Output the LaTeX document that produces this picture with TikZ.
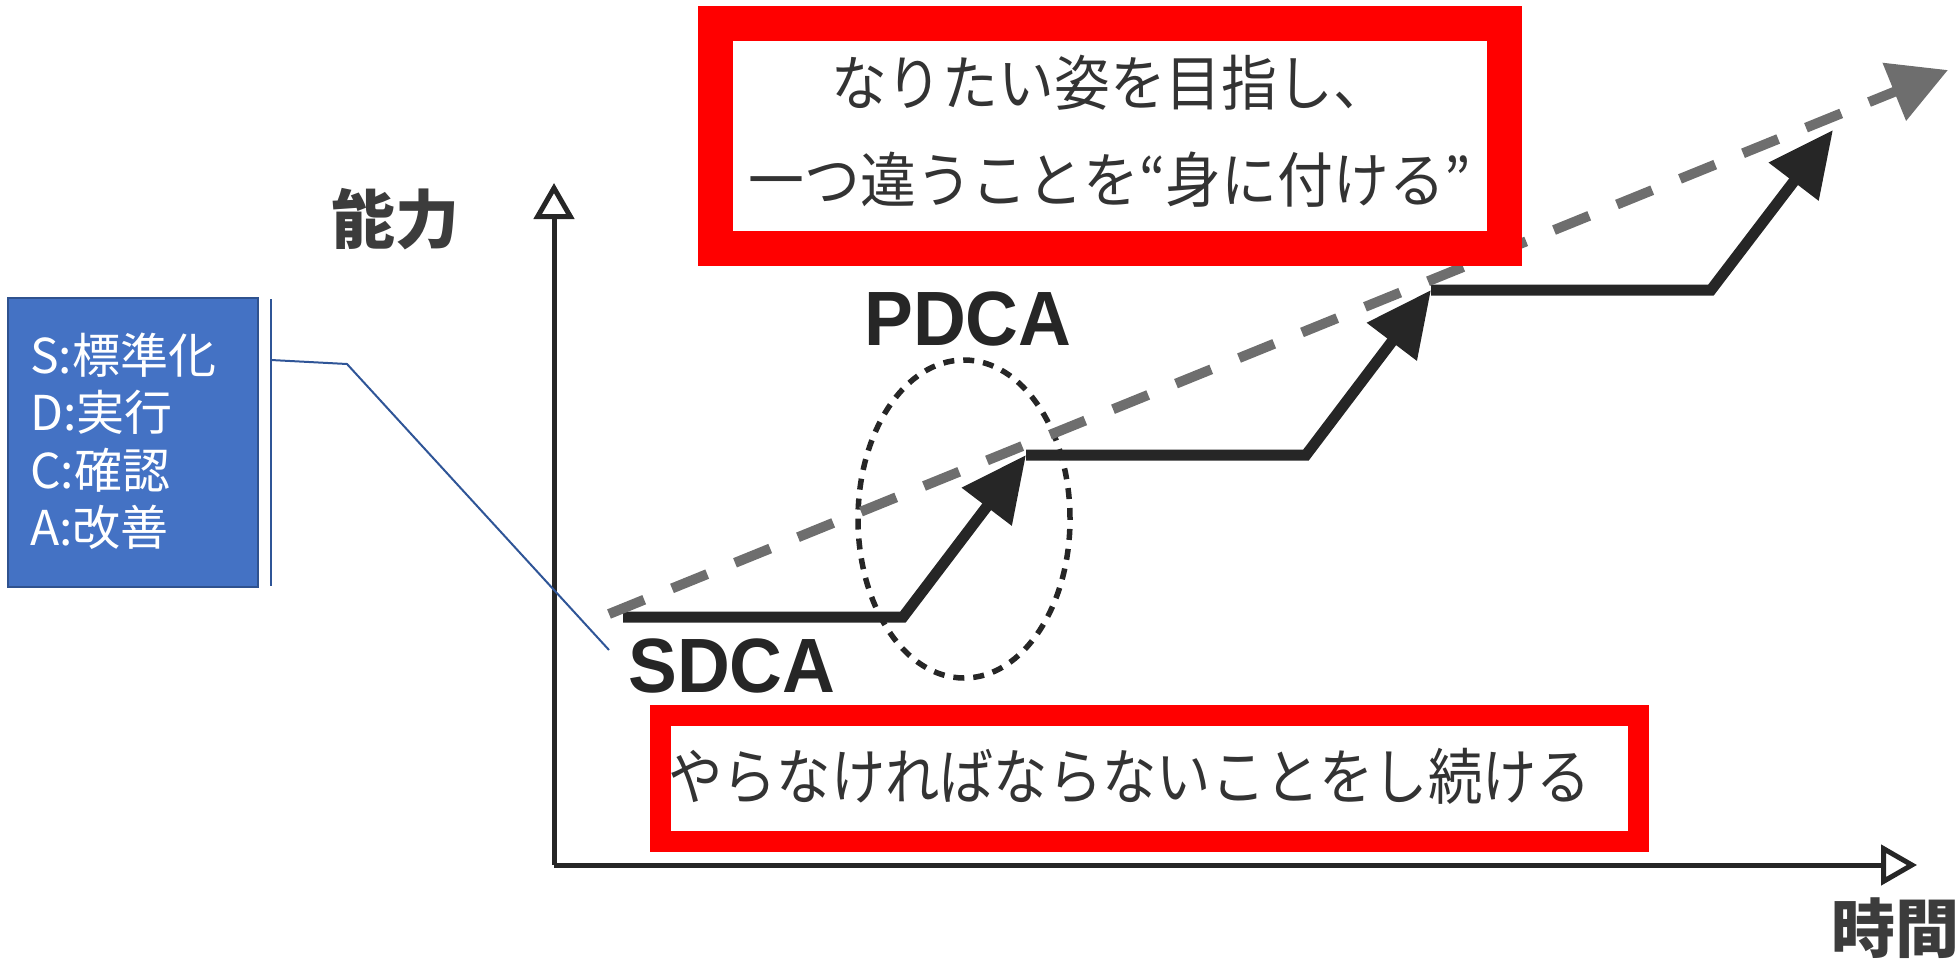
\documentclass[tikz,border=0pt]{standalone}
\usepackage{fontspec}
\usetikzlibrary{arrows.meta}
\newfontfamily\jp{Noto Sans CJK JP}
\newfontfamily\jpgoal{Noto Sans CJK JP}[FakeStretch=0.93]
\newfontfamily\jptask{Noto Sans CJK JP}[FakeStretch=0.89]
\newfontfamily\lab{Liberation Sans}[FakeStretch=0.95]
\definecolor{boxblue}{HTML}{4472C4}
\definecolor{boxedge}{HTML}{2F528F}
\definecolor{callout}{HTML}{2F5597}
\definecolor{ink}{HTML}{262626}
\definecolor{trend}{HTML}{6E6E6E}
\definecolor{txtgray}{HTML}{333333}
\definecolor{alarm}{HTML}{FF0000}
\begin{document}
\begin{tikzpicture}[x=1pt,y=-1pt,
  axisline/.style={line width=5pt,draw=ink,-{Triangle[open,length=36pt,width=40pt]}},
  stairline/.style={line width=11pt,draw=ink,-{Triangle[length=65pt,width=60pt]}},
  trendline/.style={line width=10pt,draw=trend,dash pattern=on 38pt off 30pt,-{Triangle[length=58pt,width=60pt]}},
  dotring/.style={line width=5.5pt,draw=ink,dash pattern=on 11pt off 9pt},
  redbox/.style={draw=alarm,fill=white,inner sep=0pt},
  bluebox/.style={draw=boxedge,fill=boxblue,line width=2pt,minimum width=250pt,minimum height=289pt,inner sep=0pt},
  legendtext/.style={font=\jp\fontsize{48}{57.5}\selectfont,text=white,align=left,inner sep=0pt},
  goaltext/.style={font=\jpgoal\fontsize{60}{97}\selectfont,text=txtgray,align=center,inner sep=0pt},
  tasktext/.style={font=\jptask\fontsize{61}{61}\selectfont,text=txtgray,inner sep=0pt},
  cyclelab/.style={font=\lab\bfseries\fontsize{77}{77}\selectfont,text=ink,inner sep=0pt},
  axislab/.style={font=\jp\bfseries\fontsize{64}{64}\selectfont,text=ink!90,inner sep=0pt},
  calloutline/.style={draw=callout,line width=2pt}]
\useasboundingbox (0,0) rectangle (1956,963);

% axes
\coordinate (origin) at (554,865);
\coordinate (ytip) at (554,183);
\coordinate (xtip) at (1917,865);
\draw[axisline] (origin) -- (ytip);
\draw[axisline] (origin) -- (xtip);

% dotted ellipse
\draw[dotring] (964,519) ellipse [x radius=106pt, y radius=159pt];

% staircase
\coordinate (s0) at (623,617);
\coordinate (s1) at (903,617);
\coordinate (s2) at (1026,455);
\coordinate (s3) at (1306,455);
\coordinate (s4) at (1431,290);
\coordinate (s5) at (1711,290);
\coordinate (s6) at (1833,130);
\draw[stairline] (s0) -- (s1) -- (s2);
\draw[stairline] (s2) -- (s3) -- (s4);
\draw[stairline] (s4) -- (s5) -- (s6);

% trend line
\coordinate (t0) at (609,614);
\coordinate (t1) at (1948,70);
\draw[trendline] (t0) -- (t1);

% red boxes
\node[redbox,line width=35pt,minimum width=789pt,minimum height=225pt] (goalbox) at (1110,136) {};
\node[goaltext] (goaltxt) at (1110,131) {なりたい姿を目指し、\\一つ違うことを“身に付ける”};
\node[redbox,line width=21pt,minimum width=978pt,minimum height=126pt] (taskbox) at (1149,778.5) {};
\node[tasktext,anchor=west] (tasktxt) at (668,776) {やらなければならないことをし続ける};

% labels
\node[cyclelab,anchor=base] (pdca) at (968,345) {PDCA};
\node[cyclelab,anchor=base] (sdca) at (732,692) {SDCA};
\node[axislab] (ylab) at (395,219) {能力};
\node[axislab] (xlab) at (1895,928) {時間};

% legend box and callout
\node[bluebox] (legend) at (133,442.5) {};
\node[legendtext,anchor=west] (legendtxt) at (30,441) {S:標準化\\D:実行\\C:確認\\A:改善};
\coordinate (brtop) at (271,299);
\coordinate (brbot) at (271,586);
\coordinate (c0) at (271,360);
\coordinate (c1) at (347,364);
\coordinate (c2) at (609,650);
\draw[calloutline] (brtop) -- (brbot);
\draw[calloutline] (c0) -- (c1) -- (c2);
\end{tikzpicture}
\end{document}
